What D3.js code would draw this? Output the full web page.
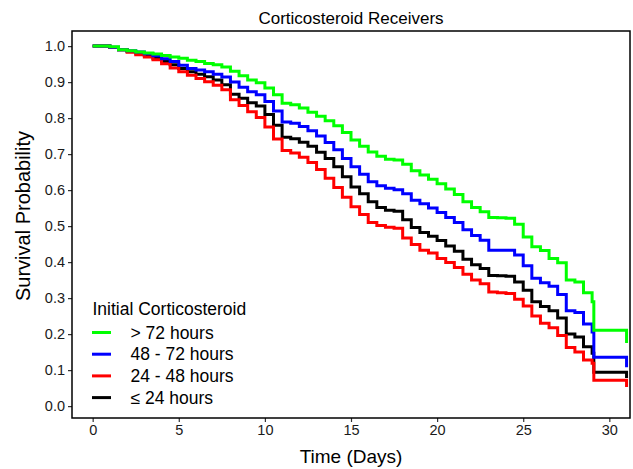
<!DOCTYPE html>
<html>
<head>
<meta charset="utf-8">
<script src="https://cdn.jsdelivr.net/npm/d3@7"></script>
<style>
  html, body { margin: 0; padding: 0; background: #fff; }
  text { font-family: "Liberation Sans", Arial, sans-serif; }
</style>
</head>
<body>
<svg id="chart" width="633" height="469"></svg>
<script>
// ---- Data ----
const times = [
  0, 0.5, 1, 1.5, 2, 2.5, 3, 3.5, 4, 4.5,
  5, 5.5, 6, 6.5, 7, 7.5, 8, 8.5, 9, 9.5,
  10, 10.5, 11, 11.5, 12, 12.5, 13, 13.5, 14, 14.5,
  15, 15.5, 16, 16.5, 17, 17.5, 18, 18.5, 19, 19.5,
  20, 20.5, 21, 21.5, 22, 22.5, 23, 23.5, 24, 24.5,
  25, 25.5, 26, 26.5, 27, 27.5, 28, 28.5, 29,
  29.1, 31
];
const over72 = [
  1.0, 1.0, 0.998, 0.99, 0.987, 0.984, 0.981, 0.978, 0.974, 0.970,
  0.966, 0.961, 0.957, 0.952, 0.948, 0.942, 0.93, 0.918, 0.906, 0.898,
  0.884, 0.865, 0.841, 0.837, 0.828, 0.816, 0.805, 0.793, 0.779, 0.76,
  0.739, 0.722, 0.706, 0.694, 0.686, 0.684, 0.672, 0.654, 0.642, 0.630,
  0.618, 0.603, 0.588, 0.568, 0.552, 0.54, 0.524, 0.523, 0.522, 0.505,
  0.47, 0.443, 0.432, 0.41, 0.398, 0.35, 0.345, 0.315, 0.29,
  0.211, 0.175
];
const h48to72 = [
  1.0, 1.0, 0.997, 0.99, 0.987, 0.984, 0.979, 0.973, 0.965, 0.957,
  0.947, 0.938, 0.934, 0.929, 0.922, 0.914, 0.9, 0.886, 0.873, 0.865,
  0.846, 0.82, 0.789, 0.786, 0.777, 0.765, 0.75, 0.732, 0.712, 0.688,
  0.665, 0.644, 0.623, 0.612, 0.605, 0.601, 0.59, 0.572, 0.562, 0.55,
  0.538, 0.524, 0.51, 0.49, 0.474, 0.461, 0.433, 0.433, 0.433, 0.42,
  0.39, 0.355, 0.343, 0.333, 0.31, 0.265, 0.26, 0.228, 0.206,
  0.136, 0.108
];
const h24to48 = [
  1.0, 1.0, 0.996, 0.99, 0.983, 0.976, 0.97, 0.962, 0.951, 0.939,
  0.929, 0.919, 0.91, 0.901, 0.891, 0.879, 0.851, 0.835, 0.818, 0.802,
  0.775, 0.742, 0.71, 0.703, 0.691, 0.677, 0.657, 0.633, 0.607, 0.58,
  0.554, 0.532, 0.51, 0.502, 0.497, 0.494, 0.467, 0.449, 0.433, 0.425,
  0.41, 0.399, 0.385, 0.366, 0.35, 0.34, 0.317, 0.315, 0.313, 0.297,
  0.278, 0.25, 0.23, 0.218, 0.196, 0.163, 0.15, 0.128, 0.119,
  0.072, 0.053
];
const under24 = [
  1.0, 1.0, 0.996, 0.99, 0.985, 0.981, 0.974, 0.966, 0.957, 0.948,
  0.938, 0.929, 0.922, 0.915, 0.906, 0.893, 0.866, 0.855, 0.843, 0.834,
  0.81, 0.78, 0.747, 0.743, 0.733, 0.722, 0.705, 0.688, 0.665, 0.637,
  0.609, 0.59, 0.568, 0.552, 0.544, 0.541, 0.518, 0.496, 0.482, 0.472,
  0.46, 0.445, 0.43, 0.408, 0.393, 0.382, 0.363, 0.362, 0.361, 0.345,
  0.322, 0.29, 0.277, 0.265, 0.245, 0.2, 0.192, 0.165, 0.147,
  0.094, 0.078
];
const groupLabels = ["> 72 hours", "48 - 72 hours", "24 - 48 hours", "\u2264 24 hours"];
const groupColors = ["#00ff00", "#0000ff", "#ff0000", "#000000"];
const xTicks = [0, 5, 10, 15, 20, 25, 30];
const yTicks = [0, 0.1, 0.2, 0.3, 0.4, 0.5, 0.6, 0.7, 0.8, 0.9, 1.0];

const seriesValues = [over72, h48to72, h24to48, under24];

// ---- Layout ----
const svg = d3.select("#chart");
const panel = { left: 72, right: 630, top: 31, bottom: 418 };

const x = d3.scaleLinear().domain([-1.2, 31.2]).range([panel.left, panel.right]);
const y = d3.scaleLinear().domain([-0.033, 1.042]).range([panel.bottom, panel.top]);

// Title
svg.append("text")
  .attr("x", (panel.left + panel.right) / 2)
  .attr("y", 24)
  .attr("text-anchor", "middle")
  .attr("font-size", 17)
  .attr("fill", "#000")
  .text("Corticosteroid Receivers");

// Curves
const line = d3.line()
  .x(d => x(d[0]))
  .y(d => y(d[1]))
  .curve(d3.curveStepAfter);

const drawOrder = [3, 2, 1, 0];
const curves = svg.append("g");
drawOrder.forEach(i => {
  const pts = times.map((t, k) => [t, seriesValues[i][k]]);
  curves.append("path")
    .datum(pts)
    .attr("d", line)
    .attr("fill", "none")
    .attr("stroke", groupColors[i])
    .attr("stroke-width", 3)
    .attr("stroke-linejoin", "miter")
    .attr("stroke-linecap", "butt");
});

// Axes
const xAxis = d3.axisBottom(x).tickValues(xTicks).tickSize(4).tickPadding(3)
  .tickFormat(d3.format("d"));
const yAxis = d3.axisLeft(y).tickValues(yTicks).tickSize(4).tickPadding(3)
  .tickFormat(d3.format(".1f"));

const gx = svg.append("g").attr("transform", `translate(0,${panel.bottom})`).call(xAxis);
const gy = svg.append("g").attr("transform", `translate(${panel.left},0)`).call(yAxis);
[gx, gy].forEach(g => {
  g.select(".domain").remove();
  g.selectAll(".tick line").attr("stroke", "#333").attr("stroke-width", 1.2);
  g.selectAll(".tick text").attr("fill", "#1a1a1a").attr("font-size", 14.5)
    .attr("font-family", "'Liberation Sans', Arial, sans-serif");
});

// Panel border
svg.append("rect")
  .attr("x", panel.left).attr("y", panel.top)
  .attr("width", panel.right - panel.left)
  .attr("height", panel.bottom - panel.top)
  .attr("fill", "none").attr("stroke", "#000").attr("stroke-width", 1.5);

// Axis titles
svg.append("text")
  .attr("x", (panel.left + panel.right) / 2)
  .attr("y", 463)
  .attr("text-anchor", "middle")
  .attr("font-size", 19)
  .attr("fill", "#000")
  .text("Time (Days)");

svg.append("text")
  .attr("transform", `translate(29.5,216) rotate(-90)`)
  .attr("text-anchor", "middle")
  .attr("font-size", 20)
  .attr("fill", "#000")
  .text("Survival Probability");

// Legend
const legend = svg.append("g");
legend.append("text")
  .attr("x", 92.5).attr("y", 315)
  .attr("font-size", 17.5)
  .attr("fill", "#000")
  .text("Initial Corticosteroid");
groupLabels.forEach((lab, i) => {
  const yy = 332.5 + i * 21.7;
  legend.append("line")
    .attr("x1", 92).attr("x2", 111)
    .attr("y1", yy).attr("y2", yy)
    .attr("stroke", groupColors[i]).attr("stroke-width", 3);
  legend.append("text")
    .attr("x", 130.5).attr("y", yy + 6)
    .attr("font-size", 17.5)
    .attr("fill", "#000")
    .text(lab);
});
</script>
</body>
</html>
